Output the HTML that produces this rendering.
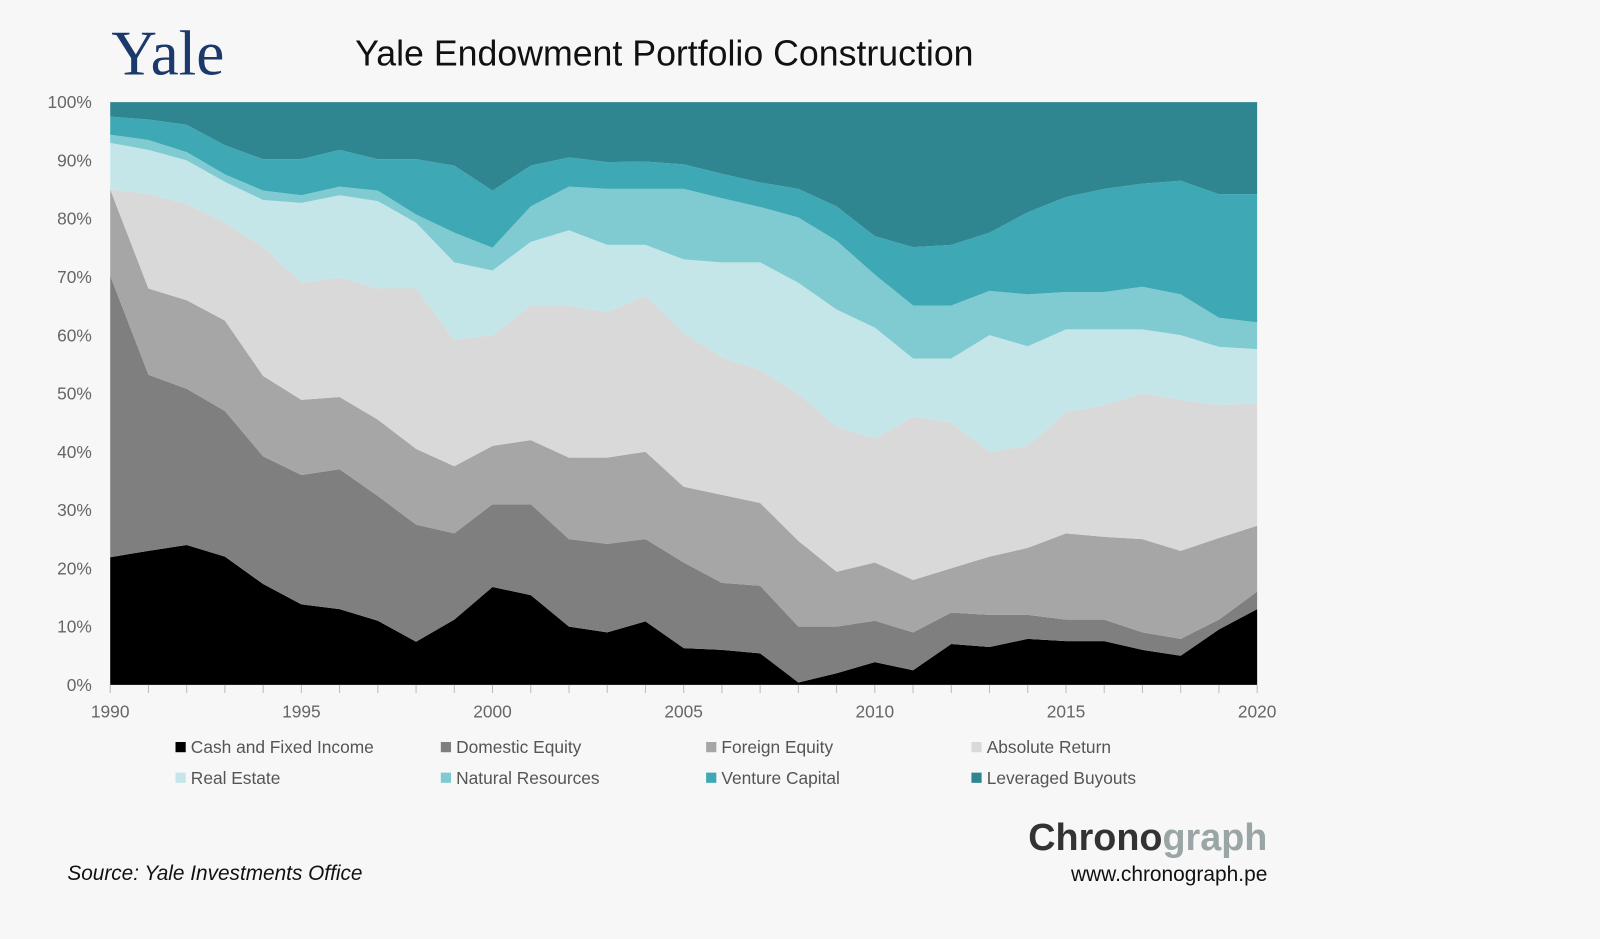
<!DOCTYPE html>
<html><head><meta charset="utf-8">
<style>
body{margin:0;background:#f7f7f7;}
svg{display:block;font-family:"Liberation Sans",sans-serif;}
</style></head>
<body>
<svg id="chart" width="1600" height="939" viewBox="0 0 1568 920" preserveAspectRatio="none">
<rect x="0" y="0" width="1568" height="920" fill="#f7f7f7"/>
<text x="109" y="73" font-family="Liberation Serif, serif" font-size="62" fill="#1b3a6b">Yale</text>
<text x="348" y="64" font-size="35" fill="#111">Yale Endowment Portfolio Construction</text>
<g id="areas"></g>
<g id="axes"></g>
<g id="legend"></g>
<text x="1242" y="833" text-anchor="end" font-size="37" font-weight="bold"><tspan fill="#333">Chrono</tspan><tspan fill="#9aa5a5">graph</tspan></text>
<text x="1242" y="863" text-anchor="end" font-size="20.5" fill="#111">www.chronograph.pe</text>
<text x="66" y="862" font-size="20.4" font-style="italic" fill="#111">Source: Yale Investments Office</text>
</svg>
<script>
const years = [1990,1991,1992,1993,1994,1995,1996,1997,1998,1999,2000,2001,2002,2003,2004,2005,2006,2007,2008,2009,2010,2011,2012,2013,2014,2015,2016,2017,2018,2019,2020];
const seriesNames = ["Cash and Fixed Income","Domestic Equity","Foreign Equity","Absolute Return","Real Estate","Natural Resources","Venture Capital","Leveraged Buyouts"];
const cash = [21.9,23,24,22,17.3,13.8,13,11,7.4,11.2,16.8,15.4,10,9,10.9,6.3,6,5.4,0.4,2,3.9,2.5,7,6.5,7.9,7.5,7.5,6,5,9.5,13];
const domestic = [48.3,30.2,26.8,25,21.9,22.2,24,21.4,20.1,14.8,14.2,15.6,15,15.2,14.1,14.7,11.5,11.6,9.6,8,7.1,6.5,5.4,5.5,4.1,3.7,3.7,3,2.9,1.7,3];
const foreign = [14.8,14.8,15.2,15.5,13.8,12.9,12.4,13.1,13,11.5,10,11,14,14.8,15,13,15.1,14.2,14.7,9.4,10,9,7.6,10,11.5,14.8,14.2,16,15.1,14,11.3];
const absoluteReturn = [0,16.2,16.5,16.8,22.1,20.1,20.5,22.5,27.5,21.7,19,23,26,25,26.7,26.4,23.6,22.8,25.2,24.9,21.2,28,25,18,17.5,20.8,22.6,25,25.9,22.8,21];
const realEstate = [8,7.6,7.5,7,8.1,13.7,14.1,15,11.3,13.3,11.1,11,13,11.5,8.8,12.6,16.3,18.5,19.1,20.1,19.1,10,11,20,17.1,14.2,13,11,11.1,10,9.3];
const naturalResources = [1.4,1.7,1.4,1.3,1.6,1.3,1.5,1.8,1.4,5.1,3.9,6.1,7.5,9.6,9.6,12.1,11,9.5,11.2,11.8,9.1,9.1,9.1,7.6,8.9,6.4,6.4,7.3,7,5,4.6];
const ventureCapital = [3.1,3.5,4.7,5,5.4,6.2,6.3,5.4,9.5,11.5,9.8,7,5,4.6,4.7,4.2,4.2,4.2,4.9,5.9,6.6,10,10.4,10,14.1,16.3,17.7,17.7,19.5,21.2,22];
const leveragedBuyouts = [2.5,3,3.9,7.4,9.8,9.8,8.2,9.8,9.8,10.9,15.2,10.9,9.5,10.3,10.2,10.7,12.3,13.8,14.9,17.9,23,24.9,24.5,22.4,18.9,16.3,14.9,14,13.5,15.8,15.8];
const yTicks = [0,10,20,30,40,50,60,70,80,90,100];
const xTicks = [1990,1995,2000,2005,2010,2015,2020];

const NS="http://www.w3.org/2000/svg";
const X0=108,X1=1232,Y0=671,Y1=100;
const xs=y=>X0+(y-years[0])/(years[years.length-1]-years[0])*(X1-X0);
const ys=v=>Y0-v/100*(Y0-Y1);
const series=[cash,domestic,foreign,absoluteReturn,realEstate,naturalResources,ventureCapital,leveragedBuyouts];
const colors=["#000000","#7f7f7f","#a6a6a6","#d9d9d9","#c4e6e8","#80cbd1","#3ea9b5","#2f8590"];
const keys=["cash","domestic-equity","foreign-equity","absolute-return","real-estate","natural-resources","venture-capital","leveraged-buyouts"];
function mk(t,a,p){const e=document.createElementNS(NS,t);for(const k in a)e.setAttribute(k,a[k]);p.appendChild(e);return e;}
const areas=document.getElementById('areas');
let base=years.map(()=>0);
series.forEach((s,i)=>{
  const top=base.map((b,j)=>b+s[j]);
  let d="M"+years.map((y,j)=>xs(y)+","+ys(top[j])).join("L");
  for(let j=years.length-1;j>=0;j--) d+="L"+xs(years[j])+","+ys(base[j]);
  d+="Z";
  const p=mk('path',{d:d,fill:colors[i]},areas);
  
  
  base=top;
});
const axes=document.getElementById('axes');
yTicks.forEach(v=>{
  const t=mk('text',{x:90,y:ys(v)+6,'text-anchor':'end','font-size':17,fill:'#666'},axes);
  t.textContent=v+"%";
  
  
});
years.forEach(y=>{
  const l=mk('line',{x1:xs(y),x2:xs(y),y1:Y0,y2:Y0+8,stroke:'#bbb','stroke-width':1},axes);
  
  
});
xTicks.forEach(y=>{
  const t=mk('text',{x:xs(y),y:703,'text-anchor':'middle','font-size':17,fill:'#666'},axes);
  t.textContent=y;
  
  
});
const legend=document.getElementById('legend');
seriesNames.forEach((n,i)=>{
  const lx=172+(i%4)*260, ly=i<4?738:768;
  const r=mk('rect',{x:lx,y:ly-11,width:10,height:10,fill:colors[i]},legend);
  
  
  const t=mk('text',{x:lx+15,y:ly,'font-size':17,fill:'#555'},legend);
  t.textContent=n;
  
  
});
</script>
</body></html>
